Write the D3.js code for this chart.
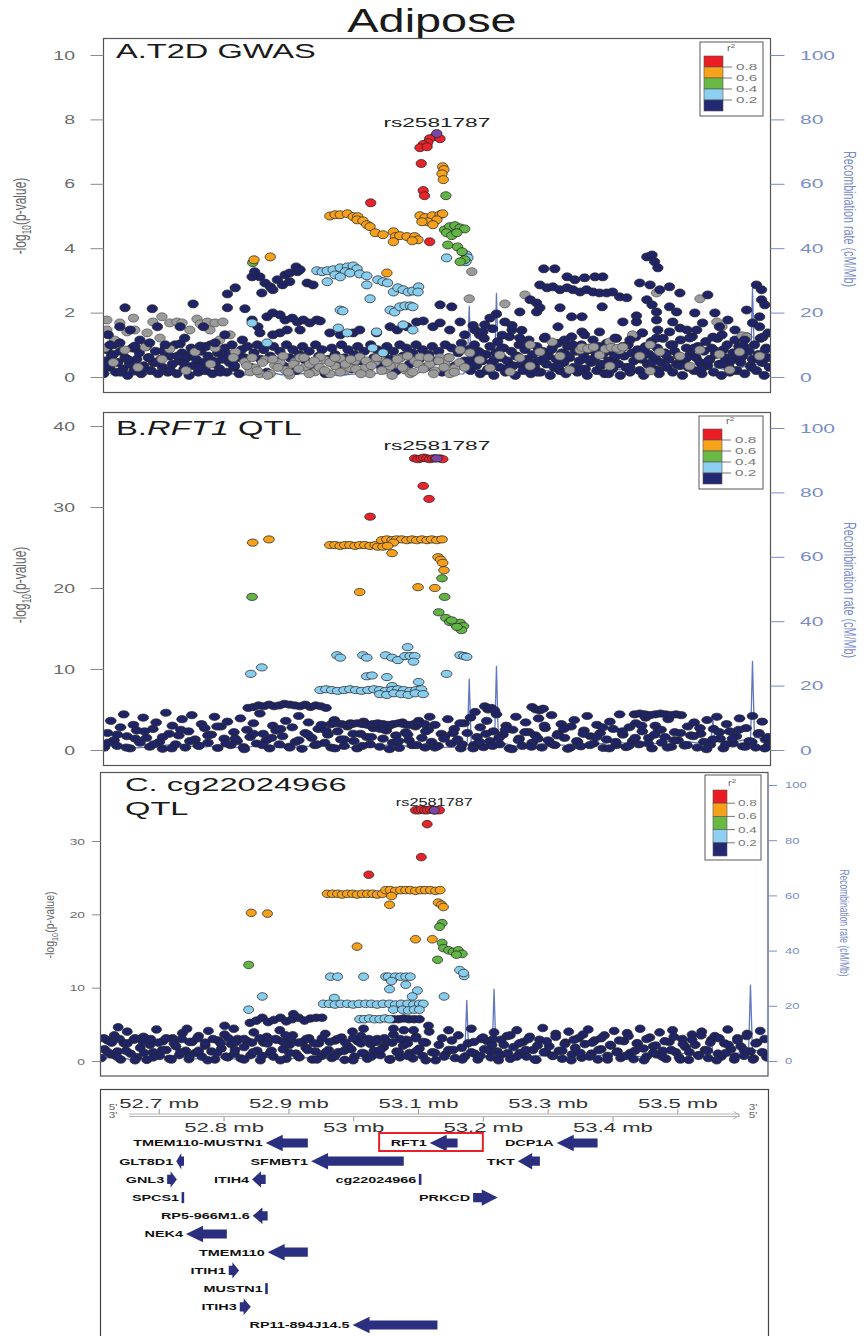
<!DOCTYPE html>
<html><head><meta charset="utf-8">
<script src="https://cdn.jsdelivr.net/npm/d3@7"></script>
<style>body{margin:0;background:#fff}svg{display:block;font-family:"Liberation Sans",Arial,Helvetica,sans-serif}</style>
</head><body><script>
// ================= DATA (positions in kb on chr3, values = -log10 p) =================
const posDomain = [52614, 53643];

// recombination rate (cM/Mb)
const recombPos  = [52614,52640,52660,52700,52730,52760,52800,52830,52860,52890,52930,52959,52975,53000,53030,53069,53090,53120,53140,53170,53176,53179,53182,53200,53218,53221,53224,53250,53300,53350,53400,53450,53500,53540,53552,53555,53558,53580,53610,53613,53616,53619,53643];
const recombRate = [1.0,1.5,0.6,1.2,2.0,0.8,1.4,0.5,1.8,0.7,1.1,1.3,0.4,0.9,1.0,2.0,0.6,2.5,0.8,1.0,2.5,22,2.0,1.5,2.0,26,2.5,1.2,2.0,1.0,2.5,1.5,3.0,2.0,3.0,9.2,3.0,2.0,3.5,3.0,27.5,4.0,3.0];

// ---- A. T2D GWAS ----
const gwasNavyLow = [52615,0.1,52617,0.5,52620,0.85,52624,0.3,52627,0.65,52630,1.0,52634,0.15,52637,0.45,52641,0.8,52645,0.25,52648,0.6,52652,0.05,52655,0.4,52659,0.9,52662,0.2,52666,0.55,52670,0.75,52673,0.1,52677,0.35,52681,0.95,52684,0.6,52688,0.2,52692,0.45,52695,0.8,52699,0.1,52703,0.55,52706,0.3,52710,0.9,52714,0.15,52717,0.65,52721,0.4,52725,1.0,52728,0.1,52732,0.5,52736,0.75,52739,0.25,52743,0.6,52747,0.05,52750,0.9,52754,0.35,52758,0.55,52761,0.15,52765,0.8,52769,0.45,52772,0.2,52776,0.65,52780,1.0,52783,0.1,52787,0.4,52791,0.75,52794,0.25,52798,0.55,52802,0.9,52805,0.15,52809,0.45,52813,0.7,52816,0.3,52820,0.6,52824,0.1,52828,0.85,
52832,0.6,52837,0.95,52842,0.3,52847,0.75,52852,1.0,52857,0.55,52862,0.85,52867,0.15,52872,0.65,52877,0.95,52882,0.5,52887,0.8,52892,0.35,52897,1.0,52902,0.6,52907,0.85,52912,0.2,52917,0.7,52922,0.95,52927,0.5,52932,0.8,52937,0.3,52942,1.0,52947,0.65,52952,0.85,52957,0.1,52962,0.55,52967,0.9,52972,0.7,52977,0.4,52982,1.0,52987,0.6,52992,0.85,52997,0.25,53002,0.7,53007,0.95,53012,0.5,53017,0.8,53022,0.15,53027,1.0,53032,0.6,53037,0.85,53042,0.35,53047,0.7,53052,0.95,53057,0.55,53062,0.8,53067,0.2,53072,1.0,53077,0.65,53082,0.9,53087,0.4,53092,0.75,53097,1.0,53102,0.55,53107,0.85,53112,0.3,53117,0.7,53122,0.95,53127,0.5,53132,0.8,53137,0.15,53142,1.0,53147,0.6,53152,0.9,53157,0.35,53162,0.75,53167,1.05,53172,0.5,53177,0.85,
53181,0.2,53184,0.6,53187,1.0,53190,0.35,53193,0.8,53196,0.1,53199,0.5,53202,1.2,53205,0.7,53208,0.25,53211,0.95,53214,0.45,53217,0.05,53220,0.75,53223,1.1,53226,0.3,53229,0.6,53232,0.9,53235,0.15,53238,0.5,53241,1.25,53244,0.8,53247,0.35,53250,0.05,53253,0.65,53256,1.0,53259,0.4,53262,0.2,53265,0.85,53268,0.55,53271,1.15,53274,0.1,53277,0.7,53280,0.3,53283,0.95,53286,0.5,53289,0.15,53292,0.8,53295,1.2,53298,0.4,53301,0.65,53304,0.05,53307,0.9,53310,0.3,53313,0.55,53316,1.05,53319,0.2,53322,0.75,53325,0.45,53328,0.1,53331,0.95,53334,0.6,53337,1.25,53340,0.3,53343,0.8,53346,0.15,53349,0.5,53352,1.0,53355,0.7,53358,0.25,53361,0.05,53364,0.85,53367,0.45,53370,1.15,53373,0.6,53376,0.2,53379,0.95,53382,0.35,53385,0.7,53388,0.1,53391,1.05,53394,0.5,53397,0.8,53400,0.25,53403,0.6,53406,1.2,53409,0.4,53412,0.05,53415,0.9,53418,0.65,53421,0.3,53424,1.0,53427,0.15,53430,0.75,53433,0.5,53436,1.25,53439,0.85,53442,0.2,53445,0.55,53448,0.05,53451,0.95,53454,0.4,53457,0.7,53460,1.1,53463,0.25,53466,0.6,53469,0.9,53472,0.1,53475,0.45,53478,1.2,53481,0.75,53484,0.3,53487,0.55,53490,1.0,53493,0.15,53496,0.8,53499,0.4,53502,0.65,53505,1.15,53508,0.05,53511,0.5,53514,0.9,53517,0.3,53520,0.7,53523,1.25,53526,0.2,53529,0.6,53532,0.95,53535,0.45,53538,0.1,53541,0.8,53544,1.1,53547,0.35,53550,0.55,53553,0.9,53556,0.15,53559,0.7,53562,1.2,53565,0.4,53568,0.05,53571,0.85,53574,0.6,53577,1.0,53580,0.3,53583,0.5,53586,0.75,53589,1.15,53592,0.2,53595,0.95,53598,0.45,53601,0.65,53604,0.1,53607,1.25,53610,0.8,53613,0.35,53616,0.55,53619,1.0,53622,0.2,53625,0.7,53628,1.2,53631,0.45,53634,0.05,53637,0.9,53640,0.6,53642,0.3,
52619,0.35,52630,0.7,52641,0.15,52652,0.55,52663,0.9,52674,0.25,52685,0.6,52696,0.45,52707,0.8,52718,0.2,52729,0.65,52740,0.4,52751,0.75,52762,0.3,52773,0.95,52784,0.5,52795,0.15,52806,0.7,52817,0.35,52828,0.6,
53185,0.4,53196,0.75,53207,0.2,53218,0.55,53229,0.9,53240,0.3,53251,0.65,53262,1.05,53273,0.45,53284,0.15,53295,0.6,53306,0.85,53317,0.35,53328,0.7,53339,1.0,53350,0.25,53361,0.55,53372,0.8,53383,0.4,53394,0.1,53405,0.65,53416,0.95,53427,0.3,53438,0.6,53449,0.85,53460,0.45,53471,0.2,53482,0.7,53493,1.0,53504,0.35,53515,0.6,53526,0.9,53537,0.25,53548,0.5,53559,0.8,53570,0.4,53581,0.15,53592,0.65,53603,0.95,53614,0.3,53625,0.55,53636,0.85];
const gwasGray = [53183,3.27,53179,2.43,53265,2.55,53234,2.27,53535,2.43,53468,2.61,
52620,1.77,52640,1.68,52661,1.83,52663,1.46,52691,1.71,52705,1.87,52717,1.68,52728,1.71,52736,1.68,52759,1.80,52764,1.65,52775,1.71,52787,1.68,52799,1.71,52620,1.46,52651,1.40,52682,1.37,52748,1.46,52779,1.46,52810,1.31,52632,1.15,52702,1.21,52794,1.15,
52617,0.9,52648,0.84,52679,0.93,52717,0.87,52756,0.78,52787,0.9,52818,0.78,52630,0.45,52668,0.3,52705,0.55,52742,0.2,52780,0.4,52815,0.6,
52833,0.47,52848,0.28,52864,0.53,52879,0.37,52895,0.22,52910,0.47,52926,0.31,52941,0.16,52956,0.53,52972,0.34,52987,0.19,53003,0.5,53018,0.28,53034,0.47,53049,0.22,53064,0.4,53080,0.22,53095,0.5,53111,0.31,53126,0.19,53141,0.44,53157,0.28,52841,0.16,52856,0.1,52872,0.1,52887,0.45,52902,0.06,52918,0.6,52933,0.4,52949,0.62,52964,0.1,52980,0.58,52995,0.28,53010,0.62,53026,0.1,53041,0.6,53057,0.34,53072,0.58,53088,0.1,53103,0.62,53118,0.4,53134,0.6,53149,0.1,53165,0.84,53180,0.75,
52836,0.35,52844,0.6,52852,0.2,52860,0.45,52868,0.05,52876,0.55,52884,0.3,52892,0.65,52900,0.15,52908,0.4,52916,0.25,52924,0.6,52932,0.1,52940,0.5,52948,0.3,52956,0.2,52964,0.45,52972,0.6,52980,0.15,52988,0.4,52996,0.55,53004,0.25,53012,0.1,53020,0.5,53028,0.35,53036,0.6,53044,0.2,53052,0.45,53060,0.05,53068,0.55,53076,0.3,53084,0.65,53092,0.15,53100,0.4,53108,0.25,53116,0.6,53124,0.1,53132,0.5,53140,0.3,53148,0.6,53156,0.15,53164,0.45,53172,0.3,
53195,0.53,53226,0.68,53257,0.59,53288,0.78,53319,0.65,53350,0.84,53380,0.68,53411,0.84,53442,0.65,53473,0.78,53504,0.65,53535,0.84,53565,0.71,53596,0.78,53627,0.65,53561,1.71,53569,1.56,53431,1.31,53446,1.37,53600,1.28,53607,1.24,53307,1.09,53365,0.9,53458,1.0,53396,1.09,53273,1.0,53211,0.28,53242,0.16,53273,0.34,53334,0.22,53396,0.34,53458,0.19,53519,0.34,53581,0.22,53353,0.92,53362,0.88,53371,0.93,53389,0.87,53398,0.92,53407,0.89,53416,0.93];
const gwasNavy = [52856,3.11,52864,2.92,52872,2.80,52883,3.02,52895,3.17,52902,3.23,52914,3.27,52912,3.42,52918,3.33,52929,2.92,52938,2.86,52844,3.11,52848,3.27,52859,2.61,52876,2.71,52891,2.86,52902,2.96,52818,2.77,52806,2.58,
52753,2.27,52690,2.12,52648,2.15,52833,2.12,52806,2.15,53134,2.24,53152,2.18,
52640,1.56,52656,1.46,52698,1.56,52733,1.56,52769,1.56,52622,1.31,52671,1.15,52740,1.21,52802,1.31,52625,1.0,52640,1.06,52663,0.96,52686,1.06,52710,1.0,52733,1.03,52764,0.96,52787,1.06,52813,1.0,52829,1.15,
52844,1.77,52853,1.56,52867,1.87,52876,1.99,52887,1.93,52895,1.77,52906,1.83,52914,1.71,52923,1.77,52933,1.68,52944,1.77,52949,1.74,52887,1.37,52898,1.46,52918,1.46,52856,1.37,52876,1.31,52964,1.37,52980,1.31,53000,1.37,53010,1.46,53036,1.37,53057,1.56,53068,1.46,53083,1.56,53098,1.71,53108,1.74,53123,1.56,53134,1.68,53149,1.46,53165,1.71,53172,1.31,
53294,3.36,53311,3.36,53330,3.11,53342,3.02,53357,3.08,53373,3.11,53385,3.11,53453,3.73,53461,3.79,53465,3.58,53470,3.39,53288,2.86,53299,2.77,53308,2.80,53319,2.71,53330,2.77,53339,2.71,53350,2.64,53360,2.71,53370,2.64,53380,2.61,53391,2.61,53400,2.64,53411,2.49,53422,2.46,53273,2.40,53283,2.30,53288,2.15,53442,2.92,53458,2.86,53473,2.71,53488,2.80,53504,2.61,53257,2.02,53283,2.02,53319,2.15,53337,1.87,53353,1.87,53316,1.56,53353,1.40,53380,1.40,53384,2.18,53416,1.71,53437,1.71,53437,1.90,53446,1.37,53453,2.40,53461,2.24,53468,2.02,53468,1.77,53470,1.46,53468,1.21,53488,2.18,53499,2.02,53493,1.71,53488,1.40,53504,1.52,53515,1.46,53527,1.99,53530,1.46,53539,1.68,53547,2.55,53558,1.99,53565,1.56,53569,1.31,53555,1.24,53607,2.08,53616,1.68,53627,1.87,53630,2.40,53622,2.86,53630,2.71,53627,1.56,53632,1.24,53640,1.37,53635,2.24,53211,1.83,53221,1.96,53234,1.71,53245,1.46,53195,1.31,53203,1.62,53188,1.46,53257,1.21,53296,1.24,53326,1.15,53357,1.31,53404,1.21,53427,1.15,53519,1.21,53589,1.46,53604,1.15,53578,1.77,53185,1.6,53200,1.4,53215,1.5,53230,1.3,53245,1.6,53260,1.45];
const gwasLightblue = [53144,3.70,53175,3.79,53177,3.70,53174,3.58,52944,3.30,52952,3.27,52960,3.30,52969,3.33,52980,3.39,52991,3.42,53000,3.45,53006,3.36,52988,3.27,52972,3.17,52995,3.23,53010,3.20,52980,3.11,52960,2.96,53021,3.14,53021,2.86,53026,2.43,53038,3.02,53046,2.96,53053,2.92,53062,2.64,53069,2.77,53077,2.71,53085,2.64,53092,2.67,53101,2.80,53100,2.64,52980,2.08,52984,2.05,53057,2.08,53064,2.02,53072,2.18,53080,2.21,53088,2.21,53092,2.18,52844,1.68,52977,1.52,52991,1.37,53036,1.40,53030,0.90,53046,0.75,52867,1.06,53092,1.46,53077,1.62];
const gwasGreen = [53143,5.63,53141,4.57,53149,4.67,53157,4.70,53165,4.63,53172,4.60,53144,4.48,53152,4.39,53160,4.48,53146,4.10,53161,4.04,53168,3.89,53172,3.64,53165,3.58,52845,3.55];
const gwasOrange = [53138,6.53,53140,6.44,53137,6.31,53139,6.13,52964,5.00,52972,5.04,52980,5.04,52991,5.07,53000,4.98,53007,4.98,53006,4.88,53015,4.85,53021,4.73,53026,4.67,53034,4.48,53046,4.42,53062,4.51,53065,4.36,53062,4.20,53072,4.39,53083,4.36,53095,4.36,53100,4.26,53091,4.23,53103,5.01,53111,4.95,53122,5.01,53134,5.04,53138,5.07,53129,4.88,53115,4.82,53123,4.73,53106,4.82,53052,3.23,52872,3.73,52847,3.64];
const gwasRed = [53126,7.47,53118,7.40,53134,7.40,53115,7.28,53108,7.22,53103,7.12,53114,7.15,53105,6.63,53108,5.79,53110,5.63,53027,5.41,53118,4.20];
const gwasLead = [53129,7.56];

// ---- B. RFT1 QTL ----
const rftNavy = [52616,0.3,52621,2.1,52626,3.6,52631,1.2,52636,0.5,52641,2.8,52646,4.4,52651,1.7,52656,0.2,52661,3.1,52666,2.4,52671,0.9,52676,4.0,52681,1.5,52686,0.4,52691,2.6,52696,3.4,52701,1.0,52706,0.15,52711,4.6,52716,2.0,52721,3.0,52726,0.7,52731,1.8,52736,3.8,52741,0.3,52746,2.3,52751,4.3,52756,1.3,52761,0.55,52766,3.2,52771,2.7,52776,0.9,52781,1.9,52786,4.1,52791,0.25,52796,2.9,52801,1.4,52806,3.5,52811,0.6,52816,2.2,52821,1.1,52826,3.9,52831,0.35,52836,2.5,52841,1.6,52846,3.3,52851,0.8,52856,4.5,52861,2.0,52866,1.2,52871,0.2,52876,3.0,52881,2.4,52886,0.7,52891,1.7,52896,3.6,52901,0.4,52906,2.8,52911,1.0,52916,4.2,52921,0.15,52926,2.1,52931,3.4,52936,1.5,52941,0.6,52946,2.6,52951,3.1,52956,0.9,52961,1.9,52966,0.3,52971,3.7,52976,2.3,52981,1.3,52986,0.5,52991,2.9,52996,3.3,53001,1.1,53006,0.2,53011,2.0,53016,3.5,53021,1.6,53026,0.7,53031,2.7,53036,3.2,53041,0.4,53046,1.4,53051,2.4,53056,3.0,53061,0.9,53066,1.8,53071,0.25,53076,3.4,53081,2.2,53086,1.2,53091,0.6,53096,2.9,53101,3.6,53106,1.5,53111,0.3,53116,2.5,53121,1.0,53126,3.1,53131,0.5,53136,2.0,53141,1.7,53146,3.8,53151,0.8,53156,2.6,53161,1.3,53166,0.2,53171,3.3,53176,2.1,53181,4.0,53186,0.6,53191,1.6,53196,2.8,53201,0.35,53206,3.6,53211,1.1,53216,2.3,53221,4.4,53226,0.7,53231,1.9,53236,3.0,53241,0.2,53246,2.5,53251,4.1,53256,1.4,53261,0.5,53266,3.4,53271,2.2,53276,0.9,53281,1.8,53286,3.9,53291,0.3,53296,2.7,53301,1.2,53306,4.3,53311,0.6,53316,2.0,53321,3.2,53326,1.5,53331,0.15,53336,2.9,53341,3.7,53346,1.0,53351,0.45,53356,2.4,53361,4.2,53366,1.7,53371,0.8,53376,3.1,53381,2.1,53386,0.25,53391,1.3,53396,3.5,53401,2.6,53406,0.6,53411,4.4,53416,1.9,53421,0.35,53426,2.8,53431,1.1,53436,3.3,53441,0.7,53446,2.3,53451,4.0,53456,1.5,53461,0.2,53466,3.0,53471,2.5,53476,0.9,53481,1.6,53486,3.8,53491,0.4,53496,2.2,53501,1.2,53506,4.3,53511,0.55,53516,2.9,53521,1.8,53526,3.4,53531,0.3,53536,2.0,53541,1.0,53546,3.7,53551,0.65,53556,2.6,53561,4.1,53566,1.4,53571,0.2,53576,3.2,53581,2.3,53586,0.8,53591,1.7,53596,3.9,53601,0.45,53606,2.7,53611,1.1,53616,4.2,53621,0.3,53626,2.1,53631,3.5,53636,1.3,53641,0.6,
53185,0.2,53195,1.0,53205,2.0,53215,0.5,53225,1.5,53235,2.5,53245,0.1,53255,1.2,53265,2.2,53275,0.4,53285,1.4,53295,3.0,53305,0.8,53315,1.8,53325,2.6,53335,0.3,53345,1.1,53355,2.0,53365,0.6,53375,1.6,53385,2.8,53395,0.2,53405,1.0,53415,2.3,53425,0.5,53435,1.5,53445,3.0,53455,0.8,53465,1.9,53475,2.5,53485,0.3,53495,1.2,53505,2.1,53515,0.6,53525,1.7,53535,2.7,53545,0.1,53555,1.3,53565,2.2,53575,0.7,53585,1.4,53595,2.5,53605,0.4,53615,1.0,53625,2.0,53635,0.2,53640,1.6,
52622,0.9,52636,1.9,52650,0.3,52664,1.4,52678,2.3,52692,0.7,52706,1.6,52720,0.2,52734,2.5,52748,1.1,52762,0.5,52776,1.8,52790,2.9,52804,0.8,52818,1.4,52832,0.1,52846,2.0,52860,0.6,52874,1.5,52888,2.6,52902,0.3,52916,1.2,52930,1.9,52944,0.7,52958,2.4,52972,0.2,52986,1.3,53000,2.0,53014,0.5,53028,1.6,53042,2.6,53056,0.1,53070,1.1,53084,1.9,53098,0.6,53112,2.3,53126,0.3,53140,1.4,53154,2.1,53168,0.7,
53434,4.4,53442,4.5,53450,4.4,53458,4.3,53466,4.4,53474,4.5,53482,4.4,53490,4.3,53498,4.4,53203,5.4,53208,5.0,53213,5.2,53218,4.9,53276,5.3,53282,5.0,53288,4.9,53293,5.1,53188,4.7,53165,3.3,53118,4.1,
52838,5.2,52846,5.3,52854,5.5,52862,5.4,52870,5.6,52878,5.4,52886,5.5,52894,5.7,52902,5.6,52910,5.5,52918,5.4,52926,5.6,52934,5.3,52942,5.5,52950,5.4,52958,5.2,
52966,3.2,52974,3.3,52982,3.2,52990,3.1,52998,3.2,53006,3.3,53014,3.2,53022,3.1,53030,3.2,53038,3.3,53046,3.2,53054,3.1,53062,3.2,53070,3.3,53078,3.2,53086,3.1,53094,3.2,53102,3.3,53110,3.2];
const rftLightblue = [53084,12.7,53050,11.7,53060,11.4,53069,11.1,53080,11.6,53088,11.6,53095,11.6,53093,10.9,53165,11.7,53171,11.6,53175,11.5,53144,9.4,53101,8.4,52859,10.2,52842,9.4,53015,11.7,53021,11.4,52975,11.7,52980,11.4,53052,9.0,53060,7.9,53021,9.1,53029,9.2,
52949,7.4,52958,7.5,52967,7.4,52976,7.3,52986,7.4,52995,7.5,53004,7.4,53013,7.3,53023,7.4,53032,7.5,53041,7.4,53050,7.3,53060,7.4,53069,7.5,53078,7.4,53088,7.3,53097,7.4,53105,7.5,53041,6.9,53052,6.8,53063,7.0,53074,6.9,53085,6.8,53096,7.0,53108,6.9];
const rftGreen = [53137,21.2,53141,18.9,53132,17.0,53143,16.3,53149,15.8,53157,15.6,53165,15.7,53170,15.3,53167,14.8,53152,16.0,53160,15.2,52844,18.9];
const rftOrange = [52845,25.6,52870,26.0,52964,25.3,52972,25.3,52980,25.2,52987,25.3,52995,25.3,53003,25.2,53010,25.3,53018,25.3,53026,25.2,53034,25.3,53038,25.1,53044,25.9,53052,26.0,53060,25.9,53067,26.0,53075,26.0,53083,25.9,53091,26.0,53098,25.9,53106,26.0,53114,25.9,53121,26.0,53129,25.9,53137,26.0,53046,25.1,53062,25.6,53060,24.3,53053,25.2,53131,23.8,53135,23.5,53138,23.1,53140,22.2,53100,20.1,53126,20.0,53010,19.5];
const rftRed = [53095,36.0,53100,35.9,53105,36.0,53109,36.1,53114,36.0,53118,35.9,53123,36.0,53127,36.0,53134,36.0,53138,35.9,53108,32.6,53117,31.0,53026,28.8];
const rftLead = [53129,36.0];

// ---- C. cg22024966 QTL ----
const cgNavy = [52616,0.4,52621,1.6,52626,2.8,52631,0.9,52636,3.5,52641,1.3,52646,0.2,52651,2.4,52656,4.0,52661,1.0,52666,2.9,52671,0.5,52676,1.8,52681,3.3,52686,0.15,52691,2.2,52696,1.2,52701,4.3,52706,0.7,52711,2.7,52716,1.5,52721,0.3,52726,3.1,52731,2.0,52736,0.8,52741,3.8,52746,1.4,52751,0.25,52756,2.6,52761,1.1,52766,3.4,52771,0.6,52776,2.1,52781,4.1,52786,1.3,52791,0.2,52796,2.8,52801,1.7,52806,3.6,52811,0.5,52816,2.3,52821,1.0,52826,3.0,52831,0.35,52836,1.9,52841,2.7,52846,0.8,52851,3.9,52856,1.4,52861,0.1,52866,2.5,52871,3.3,52876,1.1,52881,0.6,52886,2.9,52891,4.2,52896,1.6,52901,0.3,52906,2.2,52911,3.5,52916,1.0,52921,0.5,52926,2.6,52931,1.8,52936,3.1,52941,0.2,52946,1.3,52951,2.4,52956,0.7,52961,3.7,52966,1.5,52971,0.4,52976,2.8,52981,1.2,52986,3.2,52991,0.15,52996,2.0,53001,1.6,53006,0.6,53011,2.7,53016,3.4,53021,1.0,53026,0.3,53031,2.3,53036,1.4,53041,3.0,53046,0.8,53051,1.9,53056,2.6,53061,0.2,53066,3.6,53071,1.3,53076,0.5,53081,2.1,53086,2.9,53091,1.1,53096,0.35,53101,3.3,53106,1.7,53111,0.7,53116,2.5,53121,4.0,53126,1.2,53131,0.1,53136,2.2,53141,3.1,53146,0.9,53151,1.5,53156,2.8,53161,0.4,53166,3.5,53171,1.8,53176,0.6,53181,2.4,53186,4.4,53191,1.0,53196,0.2,53201,3.0,53206,1.6,53211,2.7,53216,0.5,53221,3.9,53226,1.3,53231,0.8,53236,2.2,53241,3.4,53246,0.3,53251,1.9,53256,4.2,53261,1.1,53266,2.6,53271,0.6,53276,3.3,53281,1.5,53286,0.15,53291,2.9,53296,4.5,53301,1.2,53306,2.0,53311,0.7,53316,3.7,53321,1.4,53326,0.3,53331,2.5,53336,4.0,53341,0.9,53346,1.8,53351,3.1,53356,0.45,53361,2.3,53366,4.3,53371,1.0,53376,2.8,53381,0.2,53386,1.6,53391,3.5,53396,0.7,53401,2.1,53406,4.1,53411,1.3,53416,0.4,53421,2.7,53426,3.8,53431,1.1,53436,0.25,53441,2.4,53446,4.4,53451,1.7,53456,0.6,53461,3.2,53466,2.0,53471,0.9,53476,3.9,53481,1.4,53486,0.3,53491,2.6,53496,4.2,53501,1.2,53506,0.5,53511,3.0,53516,1.9,53521,0.15,53526,3.6,53531,2.2,53536,0.8,53541,4.0,53546,1.5,53551,0.4,53556,2.9,53561,3.4,53566,1.0,53571,0.6,53576,2.4,53581,4.3,53586,1.6,53591,0.2,53596,3.1,53601,2.0,53606,0.7,53611,3.7,53616,1.3,53621,0.35,53626,2.5,53631,4.1,53636,1.1,53641,0.5,
52620,3.1,52632,2.5,52644,3.0,52656,2.4,52668,3.1,52680,2.6,52692,3.0,52704,2.5,52716,3.1,52728,2.4,52740,3.0,52752,2.6,52764,3.1,52776,2.5,52788,3.0,52800,2.4,52812,3.1,52824,2.6,52836,3.0,52848,2.5,52860,3.1,52872,2.4,52884,3.0,52896,2.6,52908,3.1,52920,2.5,52932,3.0,52944,2.4,52956,3.1,52968,2.6,52980,3.0,52992,2.5,53004,3.1,53016,2.4,53028,3.0,53040,2.6,53052,3.1,53064,2.5,53076,3.0,53088,2.4,53100,3.1,53112,2.6,
52626,1.2,52640,0.6,52654,1.4,52668,0.1,52682,1.1,52696,0.5,52710,1.5,52724,0.2,52738,1.2,52752,0.7,52766,1.4,52780,0.1,52794,1.1,52808,0.6,52822,1.5,52836,0.2,52850,1.2,52864,0.7,52878,1.4,52892,0.1,52906,1.1,52920,0.6,52934,1.5,52948,0.2,52962,1.2,52976,0.7,52990,1.4,53004,0.1,53018,1.1,53032,0.6,53046,1.5,53060,0.2,53074,1.2,53088,0.7,53102,1.4,53116,0.1,53130,1.1,53144,0.6,53158,1.5,53172,0.2,53186,1.2,53200,0.7,53214,1.4,53228,0.1,53242,1.1,53256,0.6,53270,1.5,53284,0.2,53298,1.2,53312,0.7,53326,1.4,53340,0.1,53354,1.1,53368,0.6,53382,1.5,53396,0.2,53410,1.2,53424,0.7,53438,1.4,53452,0.1,53466,1.1,53480,0.6,53494,1.5,53508,0.2,53522,1.2,53536,0.7,53550,1.4,53564,0.1,53578,1.1,53592,0.6,53606,1.5,53620,0.2,53634,1.2,
53190,2.6,53204,3.2,53218,2.2,53232,2.9,53246,3.5,53260,2.4,53274,3.0,53288,2.1,53302,2.7,53316,3.3,53330,2.3,53344,2.9,53358,3.6,53372,2.5,53386,3.1,53400,2.2,53414,2.8,53428,3.4,53442,2.4,53456,3.0,53470,2.1,53484,2.7,53498,3.3,53512,2.3,53526,2.9,53540,3.5,53554,2.5,53568,3.1,53582,2.2,53596,2.8,53610,3.4,53624,2.4,53638,3.0,
52845,5.2,52855,5.5,52864,5.9,52873,5.3,52882,5.6,52892,5.9,52901,5.4,52910,5.7,52920,5.9,52929,5.5,52938,5.8,52947,5.9,52956,5.9,52912,6.4,52642,4.6,52748,4.4,52806,4.8,52820,4.4,52900,3.5,53020,4.4,53120,4.8,53151,4.2,53220,3.0,53066,5.7,53074,5.7,53082,5.8,53090,5.7,53098,5.7,53106,5.7,53003,4.0,53066,4.4,53082,4.2,53097,4.2];
const cgLightblue = [52969,11.5,52980,11.5,53020,11.5,53054,11.5,53058,11.5,53069,11.5,53077,11.5,53085,11.5,53092,11.5,53063,10.9,53085,10.4,53060,9.8,53103,9.6,53095,8.8,53144,8.8,52864,8.8,53168,12.4,53175,11.6,53174,12.0,52975,8.6,
52958,7.8,52967,7.8,52976,7.7,52985,7.8,52995,7.8,53004,7.7,53013,7.8,53023,7.8,53032,7.8,53041,7.7,53050,7.8,53060,7.8,53069,7.7,53078,7.8,53088,7.8,53097,7.7,53106,7.8,53112,7.8,53066,7.0,53080,7.0,53089,6.9,53098,7.0,53106,7.0,53014,5.7,53021,5.7,53029,5.8,53037,5.7,53045,5.7,53053,5.8,53060,5.7,52843,7.0];
const cgGreen = [53141,18.8,53137,18.3,53141,16.1,53143,15.4,53151,15.1,53158,14.9,53166,15.1,53172,14.6,53163,14.5,53134,13.8,52843,13.1];
const cgOrange = [52964,22.8,52972,22.8,52980,22.8,52987,22.7,52995,22.8,53003,22.8,53010,22.7,53018,22.8,53026,22.8,53034,22.8,53041,22.7,53049,22.8,53054,23.3,53061,23.3,53069,23.2,53077,23.3,53085,23.3,53092,23.3,53100,23.2,53108,23.3,53115,23.3,53123,23.3,53131,23.2,53138,23.3,53063,22.5,53060,21.3,52847,20.2,52872,20.1,53135,21.6,53140,21.3,53143,21.0,53100,16.6,53126,16.6,53010,15.6];
const cgRed = [53100,34.2,53105,34.2,53109,34.3,53114,34.2,53118,34.2,53123,34.3,53128,34.2,53132,34.2,53137,34.2,53118,32.3,53109,27.8,53028,25.4];
const cgLead = [53129,34.2];

// ticks and legend
const gwasTicks = [0,2,4,6,8,10];
const rftTicks = [0,10,20,30,40];
const cgTicks = [0,10,20,30];
const recombTicks = [0,20,40,60,80,100];
const legendColors = ['#ec1c24','#f7a21b','#69b944','#8dcff0','#232872'];
const legendTicks = ['0.8','0.6','0.4','0.2'];
const leadSNP = 'rs2581787';

// genes (kb)
const geneName  = ['TMEM110-MUSTN1','RFT1','DCP1A','GLT8D1','SFMBT1','TKT','GNL3','ITIH4','cg22024966','SPCS1','PRKCD','RP5-966M1.6','NEK4','TMEM110','ITIH1','MUSTN1','ITIH3','RP11-894J14.5'];
const geneStart = [52865,53118,53314,52727,52935,53254,52713,52844,53102,52736,53185,52845,52742,52868,52808,52865,52825,52999];
const geneEnd   = [52930,53161,53377,52739,53078,53288,52728,52865,53104,52738,53223,52868,52805,52930,52824,52867,52842,53130];
const geneStrand= [-1,-1,-1,-1,-1,-1,1,-1,-1,-1,1,-1,-1,-1,1,-1,1,-1];
const geneRow   = [0,0,0,1,1,1,2,2,2,3,3,4,5,6,7,8,9,10];
const highlightRegion = [53040,53200];
const topMbTicks = [52700,52900,53100,53300,53500];
const botMbTicks = [52800,53000,53200,53400];

// ================= DRAWING =================
const W=864,H=1336;
const svg=d3.select('body').append('svg').attr('width',W).attr('height',H);
const COL={gray:'#9b9b9b',navy:'#1f2468',lightblue:'#88cdee',green:'#62b446',orange:'#f6a11c',red:'#e8232a',purple:'#7b46a3'};
const REC='#6176c1', RAX='#7a8cc9';
function toPts(a){const r=[];for(let i=0;i<a.length;i+=2)r.push({pos:a[i],p:a[i+1]});return r;}
function stext(g,str,x,y,o={}){
  const t=g.append('text')
    .attr('transform',`translate(${x},${y}) scale(${o.sx||1.65},1)${o.rot?` rotate(${o.rot})`:''}`)
    .attr('text-anchor',o.anchor||'start').attr('font-size',o.size||12)
    .attr('fill',o.fill||'#222').attr('font-weight',o.weight||'normal');
  if(str!=null)t.text(str);
  return t;
}
function styleAxisText(sel,sx,size,fill){
  sel.selectAll('text').each(function(){
    const t=d3.select(this); const xx=+t.attr('x');
    t.attr('x',xx/sx).attr('transform',`scale(${sx},1)`).attr('font-size',size).attr('fill',fill)
     .attr('font-family','"Liberation Sans",Arial,Helvetica,sans-serif');
  });
}

svg.append('g').call(g=>stext(g,'Adipose',432,32,{size:33,sx:1.42,anchor:'middle',fill:'#1a1a1a'}));

const panels=[
 {id:'A',box:[103.5,38.5,770.5,392.5],xr:[103,770],ymax:10,y0:377,ytop:55,rtop:55,ticks:gwasTicks,rx:5.2,ry:4.0,
  series:[['navy',gwasNavyLow],['gray',gwasGray],['navy',gwasNavy],['lightblue',gwasLightblue],['green',gwasGreen],['orange',gwasOrange],['red',gwasRed],['purple',gwasLead]],
  lead:gwasLead, lt:{size:13,sx:1.5,len:13,pad:15.5}, rt:{size:12.5,sx:1.68,len:14,pad:15.5,domain:false},
  ylab:{x:26,y:216,size:12,sx:1.5}, rlab:{x:844,y:219,size:10.8,sx:1.5},
  legend:{box:[700,42,763,116],sx:704,sw:19,sy:56,sh:11,tl:9,lx:736,ls:9.5,rx:731,ry:51},
  rs:{size:13,sx:1.74,dy:6.6}},
 {id:'B',box:[103.5,412.5,770.5,765.5],xr:[103,770],ymax:40,y0:750,ytop:426,rtop:428,ticks:rftTicks,rx:5.4,ry:3.6,
  series:[['navy',rftNavy],['lightblue',rftLightblue],['green',rftGreen],['orange',rftOrange],['red',rftRed],['purple',rftLead]],
  lead:rftLead, lt:{size:13,sx:1.5,len:13,pad:15.5}, rt:{size:12.5,sx:1.68,len:14,pad:15.5,domain:false},
  ylab:{x:26,y:585,size:12,sx:1.5}, rlab:{x:844,y:590,size:10.8,sx:1.5},
  legend:{box:[699,416,763,489],sx:703,sw:19,sy:429,sh:11,tl:9,lx:735,ls:9.5,rx:730,ry:424},
  rs:{size:13,sx:1.74,dy:8.4}},
 {id:'C',box:[100.5,772.5,768,1076],xr:[100,768],ymax:30,y0:1061,ytop:841,rtop:785,ticks:cgTicks,rx:5,ry:3.8,
  series:[['navy',cgNavy],['lightblue',cgLightblue],['green',cgGreen],['orange',cgOrange],['red',cgRed],['purple',cgLead]],
  lead:cgLead, lt:{size:9.5,sx:1.45,len:8.5,pad:7}, rt:{size:9,sx:1.45,len:9,pad:8,domain:true},
  ylab:{x:54,y:925,size:10.5,sx:1.3}, rlab:{x:840,y:923,size:8.5,sx:1.4},
  legend:{box:[705,775,761,860],sx:713,sw:14,sy:790,sh:13.2,tl:8,lx:738,ls:8.5,rx:732,ry:786},
  rs:{size:10,sx:1.63,dy:4.3}}
];

panels.forEach(P=>{
  const g=svg.append('g');
  const [L,T,R,B]=P.box;
  const x=d3.scaleLinear().domain(posDomain).range(P.xr);
  const y=d3.scaleLinear().domain([0,P.ymax]).range([P.y0,P.ytop]);
  const yr=d3.scaleLinear().domain([0,100]).range([P.y0,P.rtop]);
  const cid='clip'+P.id;
  svg.append('clipPath').attr('id',cid).append('rect').attr('x',L).attr('y',T).attr('width',R-L).attr('height',B-T);
  const plot=g.append('g').attr('clip-path',`url(#${cid})`);
  plot.append('path').datum(d3.zip(recombPos,recombRate))
    .attr('d',d3.line().x(d=>x(d[0])).y(d=>yr(d[1])))
    .attr('fill','none').attr('stroke',REC).attr('stroke-width',1.3).attr('stroke-linejoin','round');
  P.series.forEach(([cls,arr])=>{
    plot.append('g').selectAll('ellipse').data(toPts(arr)).join('ellipse')
      .attr('cx',d=>x(d.pos)).attr('cy',d=>y(d.p)).attr('rx',P.rx).attr('ry',P.ry)
      .attr('fill',COL[cls]).attr('stroke',cls==='gray'?'#555':'#262626').attr('stroke-width',0.75);
  });
  g.append('rect').attr('x',L).attr('y',T).attr('width',R-L).attr('height',B-T)
    .attr('fill','none').attr('stroke','#555').attr('stroke-width',1.2);
  // left axis
  const la=g.append('g').attr('transform',`translate(${L},0)`)
    .call(d3.axisLeft(y).tickValues(P.ticks).tickSize(P.lt.len).tickPadding(P.lt.pad).tickFormat(d3.format('d')));
  la.select('.domain').remove();
  la.selectAll('line').attr('stroke','#8a8a8a');
  styleAxisText(la,P.lt.sx,P.lt.size,'#6a6a6a');
  // right axis
  const ra=g.append('g').attr('transform',`translate(${R},0)`)
    .call(d3.axisRight(yr).tickValues(recombTicks).tickSize(P.rt.len).tickSizeOuter(0).tickPadding(P.rt.pad));
  if(!P.rt.domain) ra.select('.domain').remove(); else ra.select('.domain').attr('stroke',RAX).attr('d',`M0,${yr(100)}V${yr(0)}`);
  ra.selectAll('line').attr('stroke',RAX);
  styleAxisText(ra,P.rt.sx,P.rt.size,RAX);
  // axis titles
  const yl=stext(g,null,P.ylab.x,P.ylab.y,{size:P.ylab.size,sx:P.ylab.sx,rot:-90,anchor:'middle',fill:'#666'});
  yl.append('tspan').text('-log');
  yl.append('tspan').text('10').attr('font-size',P.ylab.size*0.7).attr('dy',P.ylab.size*0.3);
  yl.append('tspan').text('(p-value)').attr('dy',-P.ylab.size*0.3);
  stext(g,'Recombination rate (cM/Mb)',P.rlab.x,P.rlab.y,{size:P.rlab.size,sx:P.rlab.sx,rot:90,anchor:'middle',fill:RAX});
  // lead SNP label
  const lp=toPts(P.lead)[0];
  stext(g,leadSNP,x(lp.pos),y(lp.p)-P.rs.dy,{size:P.rs.size,sx:P.rs.sx,anchor:'middle',fill:'#222'});
  // legend
  const Lg=P.legend, lg=g.append('g');
  lg.append('rect').attr('x',Lg.box[0]).attr('y',Lg.box[1]).attr('width',Lg.box[2]-Lg.box[0]).attr('height',Lg.box[3]-Lg.box[1])
    .attr('fill','#fff').attr('stroke','#666').attr('stroke-width',1.1);
  lg.selectAll('rect.sw').data(legendColors).join('rect').attr('class','sw')
    .attr('x',Lg.sx).attr('y',(d,i)=>Lg.sy+i*Lg.sh).attr('width',Lg.sw).attr('height',Lg.sh)
    .attr('fill',d=>d).attr('stroke','#555').attr('stroke-width',0.6);
  legendTicks.forEach((t,i)=>{
    const yy=Lg.sy+(i+1)*Lg.sh;
    lg.append('line').attr('x1',Lg.sx+Lg.sw).attr('x2',Lg.sx+Lg.sw+Lg.tl).attr('y1',yy).attr('y2',yy).attr('stroke','#777');
    stext(lg,t,Lg.lx,yy+Lg.ls*0.36,{size:Lg.ls,sx:1.6,fill:'#777'});
  });
  const r2=stext(lg,null,Lg.rx,Lg.ry,{size:8.5,sx:1.3,anchor:'middle',fill:'#666'});
  r2.append('tspan').text('r');
  r2.append('tspan').text('2').attr('font-size',6).attr('dy',-3.5);
});

// panel titles
(function(){
  const g=svg.append('g');
  stext(g,'A.T2D GWAS',116,58,{size:20,sx:1.63,fill:'#1a1a1a'});
  const tb=stext(g,null,116,435,{size:20,sx:1.64,fill:'#1a1a1a'});
  tb.append('tspan').text('B.');
  tb.append('tspan').text('RFT1').attr('font-style','italic');
  tb.append('tspan').text(' QTL');
  stext(g,'C. cg22024966',125,791,{size:19,sx:1.72,fill:'#1a1a1a'});
  stext(g,'QTL',125,815,{size:19,sx:1.72,fill:'#1a1a1a'});
})();

// gene track
(function(){
  const g=svg.append('g');
  const x=d3.scaleLinear().domain(posDomain).range([103,770]);
  g.append('rect').attr('x',100.5).attr('y',1089.5).attr('width',668).attr('height',300)
    .attr('fill','none').attr('stroke','#444').attr('stroke-width',1.2);
  const fmt=d=>(d/1000)+' mb';
  const ta=g.append('g').attr('transform','translate(0,1114)')
    .call(d3.axisTop(x).tickValues(topMbTicks).tickSize(5).tickPadding(1).tickFormat(fmt));
  ta.select('.domain').remove(); ta.selectAll('line').attr('stroke','#999');
  styleAxisText(ta,1.7,13,'#333');
  const ba=g.append('g').attr('transform','translate(0,1116.5)')
    .call(d3.axisBottom(x).tickValues(botMbTicks).tickSize(5).tickPadding(1.5).tickFormat(fmt));
  ba.select('.domain').remove(); ba.selectAll('line').attr('stroke','#999');
  styleAxisText(ba,1.7,13,'#333');
  const ax1=x(52654), ax2=x(53596);
  [1114,1116.5].forEach(yy=>g.append('line').attr('x1',ax1).attr('x2',ax2).attr('y1',yy).attr('y2',yy).attr('stroke','#aaa').attr('stroke-width',0.9));
  g.append('path').attr('d',`M${ax2-6},${1111.5}L${ax2},${1115.2}L${ax2-6},${1119}`).attr('fill','none').attr('stroke','#aaa');
  stext(g,"5'",113,1110,{size:9,sx:1.3,anchor:'middle',fill:'#666'});
  stext(g,"3'",113,1118,{size:9,sx:1.3,anchor:'middle',fill:'#666'});
  stext(g,"3'",753,1110,{size:9,sx:1.3,anchor:'middle',fill:'#666'});
  stext(g,"5'",753,1118,{size:9,sx:1.3,anchor:'middle',fill:'#666'});
  const GC='#2b2f7f', hh=8.2, bh=4.6;
  geneName.forEach((nm,i)=>{
    const x1=x(geneStart[i]), x2=x(geneEnd[i]), yc=1143+geneRow[i]*18.2, w=x2-x1;
    if(w<4){
      g.append('rect').attr('x',x1-0.5).attr('y',yc-5.5).attr('width',2.6).attr('height',11).attr('fill',GC);
    } else {
      const hl=Math.min(17,w*0.65); let d;
      if(geneStrand[i]<0) d=`M${x1},${yc}L${x1+hl},${yc-hh}L${x1+hl},${yc-bh}L${x2},${yc-bh}L${x2},${yc+bh}L${x1+hl},${yc+bh}L${x1+hl},${yc+hh}Z`;
      else d=`M${x2},${yc}L${x2-hl},${yc-hh}L${x2-hl},${yc-bh}L${x1},${yc-bh}L${x1},${yc+bh}L${x2-hl},${yc+bh}L${x2-hl},${yc+hh}Z`;
      g.append('path').attr('d',d).attr('fill',GC);
    }
    stext(g,nm,x1-3,yc+3.3,{size:9,sx:1.6,anchor:'end',fill:'#111',weight:'bold'});
  });
  g.append('rect').attr('x',x(highlightRegion[0])).attr('y',1133).attr('width',x(highlightRegion[1])-x(highlightRegion[0])).attr('height',18)
    .attr('fill','none').attr('stroke','#e8202a').attr('stroke-width',2);
})();
</script></body></html>
